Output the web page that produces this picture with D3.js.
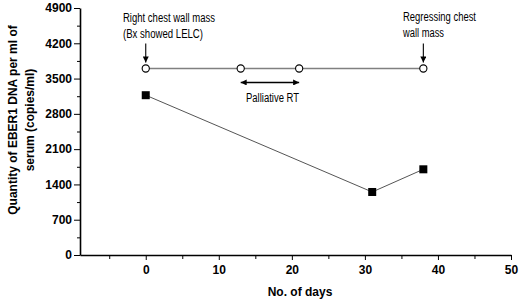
<!DOCTYPE html>
<html>
<head>
<meta charset="utf-8">
<script src="https://cdn.jsdelivr.net/npm/d3@7"></script>
<style>
  body { margin: 0; background: #fff; }
  text { font-family: "Liberation Sans", Arial, sans-serif; }
  .axis text { font-weight: bold; font-size: 12px; }
  .note { font-size: 12px; }
</style>
</head>
<body>
<div id="chart"></div>
<script>
// EBER1 DNA in serum (squares) and clinical events (circles)
const dnaDays = [0, 31, 38];
const dnaValues = [3170, 1250, 1700];
const eventDays = [0, 13, 21, 38];
const eventValue = 3700;
const xTicks = [0, 10, 20, 30, 40, 50];
const yTicks = [0, 700, 1400, 2100, 2800, 3500, 4200, 4900];

const width = 520, height = 304;
const margin = {top: 8, right: 9, bottom: 49, left: 80};
const w = width - margin.left - margin.right;
const h = height - margin.top - margin.bottom;

const svg = d3.select("#chart").append("svg")
    .attr("width", width)
    .attr("height", height);

const g = svg.append("g")
    .attr("transform", "translate(" + margin.left + "," + margin.top + ")");

const x = d3.scaleLinear().domain([-9, 50]).range([0, w]);
const y = d3.scaleLinear().domain([0, 4900]).range([h, 0]);

// minor ticks
g.append("g")
    .attr("transform", "translate(0," + h + ")")
    .call(d3.axisBottom(x).tickValues(d3.range(-5, 50, 10)).tickSize(4).tickFormat(""))
    .call(s => s.select(".domain").remove());
g.append("g")
    .call(d3.axisLeft(y).tickValues(d3.range(350, 4900, 700)).tickSize(3).tickFormat(""))
    .call(s => s.select(".domain").remove());

const xAxis = g.append("g")
    .attr("class", "axis")
    .attr("transform", "translate(0," + h + ")")
    .call(d3.axisBottom(x).tickValues(xTicks).tickSize(5).tickSizeOuter(0).tickPadding(5).tickFormat(d3.format("d")));
const yAxis = g.append("g")
    .attr("class", "axis")
    .call(d3.axisLeft(y).tickValues(yTicks).tickSize(6).tickSizeOuter(0).tickPadding(2).tickFormat(d3.format("d")));

[xAxis, yAxis].forEach(a => a.select(".domain").attr("stroke-width", 1.6));

// axis titles
svg.append("text")
    .attr("x", 300).attr("y", 296)
    .attr("text-anchor", "middle")
    .style("font-weight", "bold").style("font-size", "12px")
    .text("No. of days");

const yl = svg.append("text")
    .attr("transform", "translate(0,120) rotate(-90)")
    .attr("text-anchor", "middle")
    .style("font-weight", "bold").style("font-size", "12px");
yl.append("tspan").attr("x", 0).attr("y", 17).text("Quantity of EBER1 DNA per ml of");
yl.append("tspan").attr("x", 0).attr("y", 34).text("serum (copies/ml)");

// event line with open circles
const evLine = d3.line().x(d => x(d)).y(() => y(eventValue));
g.append("path")
    .datum(eventDays)
    .attr("d", evLine)
    .attr("fill", "none")
    .attr("stroke", "#808080")
    .attr("stroke-width", 1.3);
g.selectAll(".ev").data(eventDays).enter().append("circle")
    .attr("class", "ev")
    .attr("cx", d => x(d))
    .attr("cy", y(eventValue))
    .attr("r", 3.6)
    .attr("fill", "#fff")
    .attr("stroke", "#000")
    .attr("stroke-width", 1.1);

// DNA series with filled squares
const dna = dnaDays.map((d, i) => ({day: d, value: dnaValues[i]}));
g.append("path")
    .datum(dna)
    .attr("d", d3.line().x(d => x(d.day)).y(d => y(d.value)))
    .attr("fill", "none")
    .attr("stroke", "#555")
    .attr("stroke-width", 1);
g.selectAll(".sq").data(dna).enter().append("rect")
    .attr("class", "sq")
    .attr("x", d => x(d.day) - 4)
    .attr("y", d => y(d.value) - 4)
    .attr("width", 8)
    .attr("height", 8)
    .attr("fill", "#000");

// arrows and notes
const defs = svg.append("defs");
defs.append("marker")
    .attr("id", "arr")
    .attr("viewBox", "0 0 10 10")
    .attr("refX", 10).attr("refY", 5)
    .attr("markerWidth", 9).attr("markerHeight", 6)
    .attr("markerUnits", "userSpaceOnUse")
    .attr("orient", "auto-start-reverse")
    .append("path").attr("d", "M0,0L10,5L0,10z").attr("fill", "#000");

function downArrow(day) {
    g.append("line")
        .attr("x1", x(day)).attr("x2", x(day))
        .attr("y1", y(eventValue) - 25).attr("y2", y(eventValue) - 6)
        .attr("stroke", "#000").attr("stroke-width", 1.1)
        .attr("marker-end", "url(#arr)");
}
downArrow(eventDays[0]);
downArrow(eventDays[3]);

g.append("line")
    .attr("x1", x(eventDays[1])).attr("x2", x(eventDays[2]))
    .attr("y1", y(eventValue) + 14).attr("y2", y(eventValue) + 14)
    .attr("stroke", "#000").attr("stroke-width", 1.3)
    .attr("marker-start", "url(#arr)")
    .attr("marker-end", "url(#arr)");

// narrow-looking notes: squeeze real text to the widths seen in the picture
const note = (tx, ty, lines, lens) => {
    const t = svg.append("text").attr("class", "note");
    lines.forEach((l, i) => t.append("tspan")
        .attr("x", tx).attr("y", ty + i * 16)
        .attr("textLength", lens[i])
        .attr("lengthAdjust", "spacingAndGlyphs")
        .text(l));
};
note(123, 22, ["Right chest wall mass", "(Bx showed LELC)"], [92, 80]);
note(403, 21, ["Regressing chest", "wall mass"], [73, 41]);
note(246, 102, ["Palliative RT"], [53]);
</script>
</body>
</html>
